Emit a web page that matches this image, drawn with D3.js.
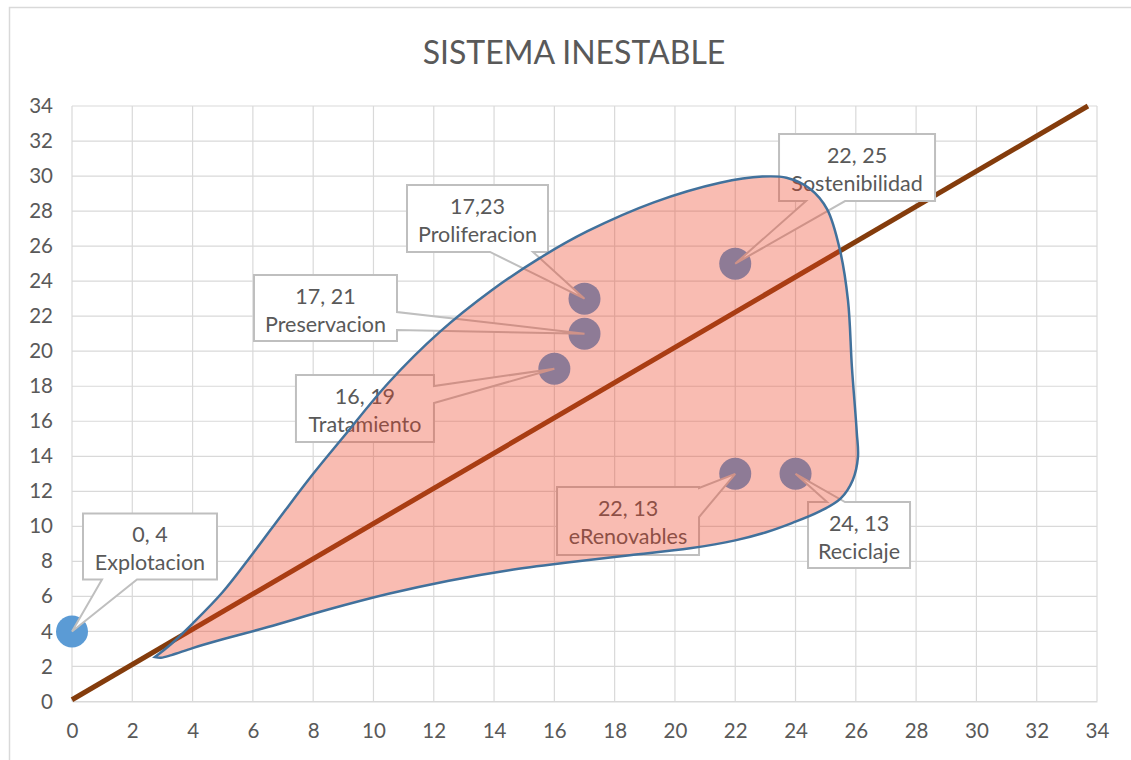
<!DOCTYPE html>
<html><head><meta charset="utf-8">
<script src="https://cdn.jsdelivr.net/npm/d3@7"></script>
<style>
html,body{margin:0;padding:0;background:#fff;}
svg{display:block;font-family:Lato,"Open Sans",sans-serif;}
</style></head>
<body><svg id="c" width="1131" height="760"></svg>
<script>
// ---- data ----
const title = "SISTEMA INESTABLE";
const xTicks = [0,2,4,6,8,10,12,14,16,18,20,22,24,26,28,30,32,34];
const yTicks = [0,2,4,6,8,10,12,14,16,18,20,22,24,26,28,30,32,34];
const pointNames = ["Explotacion","Proliferacion","Preservacion","Tratamiento","Sostenibilidad","eRenovables","Reciclaje"];
const pointX = [0,17,17,16,22,22,24];
const pointY = [4,23,21,19,25,13,13];
const pointValueText = ["0, 4","17,23","17, 21","16, 19","22, 25","22, 13","24, 13"];
const trendX = [0,33.7];
const trendY = [0.1,34];
// outline of the shaded region (x,y), from the left tip clockwise
const regionX = [2.75,3.3,4.0,5.0,6.0,7.0,8.0,9.0,10.5,12.2,13.9,15.5,17.1,19.3,21.5,22.9,23.7,24.5,25.05,25.47,25.74,25.87,26.03,26.07,25.9,25.5,24.8,23.9,23.0,22.0,20.5,18.5,16.5,14.5,12.5,10.5,8.5,6.5,5.0,4.0,3.3,2.95,2.75];
const regionY = [2.54,3.3,4.45,6.25,8.45,10.75,13.0,15.1,18.2,21.1,23.45,25.3,26.85,28.5,29.62,29.97,29.9,29.25,28.1,25.8,22.9,19.1,15.4,13.95,12.65,11.6,10.85,10.2,9.65,9.2,8.75,8.35,7.95,7.5,6.9,6.15,5.25,4.25,3.55,3.05,2.65,2.5,2.54];

// ---- layout (pixels) ----
const W = 1131, H = 760;
const plot = {l:72, r:1097, t:106, b:701.5};
// callout boxes: offset of box from its point, size, pointer side & base
const callouts = [
  {dx:11, dy:-118, w:134, h:66, side:"bottom", b1:19, b2:54},
  {dx:-177.5, dy:-113.7, w:141, h:67, side:"bottom", b1:83, b2:126},
  {dx:-330.5, dy:-58.7, w:143, h:66, side:"right", b1:37, b2:55},
  {dx:-258.4, dy:6.3, w:138, h:67, side:"right", b1:11, b2:28},
  {dx:43.8, dy:-129.6, w:156, h:67, side:"bottom", b1:27, b2:66},
  {dx:-178.2, dy:13.2, w:142, h:68, side:"right", b1:1, b2:30},
  {dx:12.5, dy:28.2, w:102, h:66, side:"top", b1:19, b2:37}
];

const svg = d3.select("#c");
const x = d3.scaleLinear().domain([0,34]).range([plot.l, plot.r]);
const y = d3.scaleLinear().domain([0,34]).range([plot.b, plot.t]);

// chart border
svg.append("rect").attr("x",9.5).attr("y",7.5).attr("width",W+20).attr("height",H+20)
  .attr("fill","#fff").attr("stroke","#d9d9d9").attr("stroke-width",1.5);

// title
svg.append("text").attr("x",574).attr("y",64).attr("text-anchor","middle")
  .attr("font-size",32).attr("fill","#595959").text(title);

// grid
const grid = svg.append("g");
grid.selectAll("line.v").data(xTicks).join("line")
  .attr("x1",d=>x(d)).attr("x2",d=>x(d)).attr("y1",y(0)).attr("y2",y(34))
  .attr("stroke","#d9d9d9").attr("stroke-width",1.2);
grid.selectAll("line.h").data(yTicks).join("line")
  .attr("y1",d=>y(d)).attr("y2",d=>y(d)).attr("x1",x(0)).attr("x2",x(34))
  .attr("stroke","#d9d9d9").attr("stroke-width",1.2);

// axes labels
const xAxis = d3.axisBottom(x).tickValues(xTicks).tickSize(0).tickPadding(22).tickFormat(d3.format("d"));
const gx = svg.append("g").attr("transform",`translate(0,${plot.b})`).call(xAxis);
gx.select(".domain").attr("stroke","#d9d9d9");
gx.selectAll("text").attr("font-size",20.5).attr("fill","#595959").attr("font-family","Lato");
const yAxis = d3.axisLeft(y).tickValues(yTicks).tickSize(0).tickPadding(19).tickFormat(d3.format("d"));
const gy = svg.append("g").attr("transform",`translate(${plot.l},0)`).call(yAxis);
gy.select(".domain").remove();
gy.selectAll("text").attr("font-size",20.5).attr("fill","#595959").attr("font-family","Lato");

// trend line
const trend = trendX.map((v,i)=>[v,trendY[i]]);
svg.append("path").datum(trend)
  .attr("d", d3.line().x(d=>x(d[0])).y(d=>y(d[1])))
  .attr("stroke","#843c0c").attr("stroke-width",5).attr("fill","none");

// points
const pts = pointX.map((v,i)=>({x:v,y:pointY[i],name:pointNames[i],val:pointValueText[i],c:callouts[i]}));
svg.append("g").selectAll("circle").data(pts).join("circle")
  .attr("cx",d=>x(d.x)).attr("cy",d=>y(d.y)).attr("r",16).attr("fill","#5b9bd5");

// callouts
function calloutPath(px,py,c){
  const L=px+c.dx, T=py+c.dy, R=L+c.w, B=T+c.h;
  const p=[[L,T]];
  if(c.side==="top"){p.push([L+c.b1,T],[px,py],[L+c.b2,T]);}
  p.push([R,T]);
  if(c.side==="right"){p.push([R,T+c.b1],[px,py],[R,T+c.b2]);}
  p.push([R,B]);
  if(c.side==="bottom"){p.push([L+c.b2,B],[px,py],[L+c.b1,B]);}
  p.push([L,B]);
  return "M"+p.map(q=>q.join(",")).join("L")+"Z";
}
const cg = svg.append("g").selectAll("g").data(pts).join("g");
cg.append("path").attr("d",d=>calloutPath(x(d.x),y(d.y),d.c))
  .attr("fill","#fff").attr("stroke","#bfbfbf").attr("stroke-width",2).attr("stroke-linejoin","miter");
cg.append("text").attr("x",d=>x(d.x)+d.c.dx+d.c.w/2).attr("y",d=>y(d.y)+d.c.dy+29)
  .attr("text-anchor","middle").attr("font-size",21.5).attr("fill","#595959").text(d=>d.val);
cg.append("text").attr("x",d=>x(d.x)+d.c.dx+d.c.w/2).attr("y",d=>y(d.y)+d.c.dy+57)
  .attr("text-anchor","middle").attr("font-size",21.5).attr("fill","#595959").text(d=>d.name);

// shaded region on top
const region = regionX.map((v,i)=>[v,regionY[i]]);
svg.append("path").datum(region)
  .attr("d", d3.line().x(d=>x(d[0])).y(d=>y(d[1])).curve(d3.curveCatmullRom.alpha(0.5))(region)+"Z")
  .attr("fill","rgb(238,64,35)").attr("fill-opacity",0.35)
  .attr("stroke","#41719c").attr("stroke-width",2.5);
</script></body></html>
